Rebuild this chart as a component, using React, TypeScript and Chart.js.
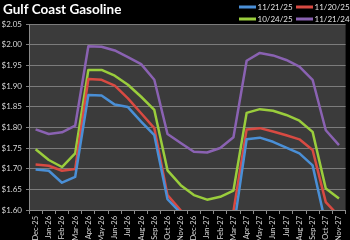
import React, { useEffect, useRef } from "react";
import { Chart, registerables } from "chart.js";

Chart.register(...registerables);

const months = [
  "Dec-25", "Jan-26", "Feb-26", "Mar-26", "Apr-26", "May-26", "Jun-26", "Jul-26",
  "Aug-26", "Sep-26", "Oct-26", "Nov-26", "Dec-26", "Jan-27", "Feb-27", "Mar-27",
  "Apr-27", "May-27", "Jun-27", "Jul-27", "Aug-27", "Sep-27", "Oct-27", "Nov-27",
];

const curve112125 = [1.698, 1.695, 1.666, 1.68, 1.878, 1.877, 1.855, 1.849, 1.814, 1.781, 1.626, 1.593, 1.57, 1.56, 1.565, 1.553, 1.771, 1.775, 1.765, 1.751, 1.737, 1.708, 1.565, 1.545];
const curve112025 = [1.71, 1.707, 1.695, 1.699, 1.917, 1.915, 1.901, 1.87, 1.834, 1.798, 1.636, 1.599, 1.575, 1.565, 1.57, 1.597, 1.795, 1.798, 1.79, 1.781, 1.771, 1.745, 1.619, 1.585];
const curve102425 = [1.747, 1.721, 1.704, 1.737, 1.939, 1.939, 1.925, 1.903, 1.874, 1.842, 1.696, 1.66, 1.636, 1.625, 1.632, 1.647, 1.835, 1.844, 1.84, 1.83, 1.816, 1.789, 1.652, 1.628];
const curve112124 = [1.795, 1.784, 1.788, 1.804, 1.996, 1.995, 1.986, 1.97, 1.953, 1.915, 1.784, 1.762, 1.741, 1.739, 1.75, 1.776, 1.961, 1.98, 1.974, 1.963, 1.947, 1.915, 1.793, 1.757];

const seriesLabels = ["11/21/25", "11/20/25", "10/24/25", "11/21/24"];
const seriesColors = ["#4a8fd6", "#d84a42", "#9acd3c", "#8a62b2"];
const yTicks = [1.6, 1.65, 1.7, 1.75, 1.8, 1.85, 1.9, 1.95, 2.0, 2.05];
const titleText = "Gulf Coast Gasoline";

const FONT = "Lato, 'Liberation Sans', sans-serif";

const decorPlugin = {
  id: "decor",
  beforeDraw(chart: any) {
    const { ctx, chartArea } = chart;
    ctx.save();
    ctx.fillStyle = "#000000";
    ctx.fillRect(0, 0, chart.width, chart.height);
    ctx.fillStyle = "#3b3b3b";
    ctx.fillRect(chartArea.left, chartArea.top, chartArea.right - chartArea.left, chartArea.bottom - chartArea.top);
    ctx.restore();
  },
  afterDraw(chart: any) {
    const { ctx } = chart;
    ctx.save();
    ctx.fillStyle = "#ffffff";
    ctx.font = `bold 13.5px ${FONT}`;
    ctx.textBaseline = "middle";
    ctx.textAlign = "left";
    ctx.fillText(titleText, 3, 10);

    const pos = [
      { x: 239, y: 7 },
      { x: 296, y: 7 },
      { x: 239, y: 19 },
      { x: 296, y: 19 },
    ];
    ctx.font = `8px ${FONT}`;
    chart.data.datasets.forEach((ds: any, i: number) => {
      const p = pos[i];
      ctx.strokeStyle = ds.borderColor;
      ctx.lineWidth = 3;
      ctx.beginPath();
      ctx.moveTo(p.x, p.y);
      ctx.lineTo(p.x + 17, p.y);
      ctx.stroke();
      ctx.fillStyle = "#e0e0e0";
      ctx.fillText(ds.label, p.x + 18.5, p.y + 0.5);
    });
    ctx.restore();
  },
};

export default function App() {
  const ref = useRef<HTMLCanvasElement | null>(null);

  useEffect(() => {
    document.body.style.margin = "0";
    document.body.style.background = "#000";
    const canvas = ref.current;
    if (!canvas) return;
    const data = [curve112125, curve112025, curve102425, curve112124];
    const chart = new Chart(canvas, {
      type: "line",
      data: {
        labels: months,
        datasets: data.map((d, i) => ({
          label: seriesLabels[i],
          data: d,
          borderColor: seriesColors[i],
          backgroundColor: seriesColors[i],
          borderWidth: 2.5,
          pointRadius: 0,
          tension: 0,
          clip: 0,
          borderJoinStyle: "round" as const,
        })),
      },
      options: {
        animation: false,
        responsive: false,
        maintainAspectRatio: false,
        layout: { padding: { top: 24, right: 1, left: 0, bottom: 0 } },
        plugins: {
          legend: { display: false },
          title: { display: false },
          tooltip: { enabled: false },
        },
        scales: {
          x: {
            type: "category",
            offset: true,
            grid: {
              offset: true,
              drawOnChartArea: false,
              drawTicks: true,
              tickLength: 4,
              color: "#8a8a8a",
            },
            border: { display: true, color: "#8a8a8a" },
            ticks: {
              color: "#d8d8d8",
              font: { family: FONT, size: 7.5 },
              maxRotation: 90,
              minRotation: 90,
              autoSkip: false,
              padding: 2,
            },
            afterFit(scale: any) {
              scale.height = 30;
            },
          },
          y: {
            min: 1.6,
            max: 2.05,
            grid: {
              color: "#7c7c7c",
              drawTicks: true,
              tickLength: 3,
              lineWidth: 1,
            },
            border: { display: true, color: "#8a8a8a" },
            ticks: {
              color: "#d8d8d8",
              font: { family: FONT, size: 8 },
              padding: 4,
              callback: (v: any) => "$" + Number(v).toFixed(2),
            },
            afterBuildTicks(scale: any) {
              scale.ticks = yTicks.map((v) => ({ value: v }));
            },
            afterFit(scale: any) {
              scale.width = 29;
            },
          },
        },
      },
      plugins: [decorPlugin],
    });
    return () => chart.destroy();
  }, []);

  return (
    <div style={{ position: "absolute", left: 0, top: 0, width: 350, height: 240, background: "#000" }}>
      <canvas ref={ref} width={350} height={240} />
    </div>
  );
}
